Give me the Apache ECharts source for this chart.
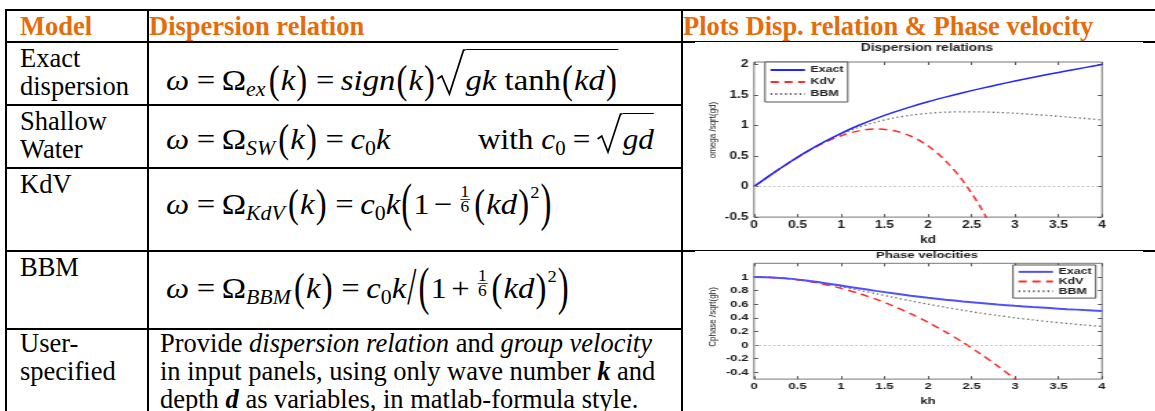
<!DOCTYPE html>
<html>
<head>
<meta charset="utf-8">
<script src="https://cdn.jsdelivr.net/npm/echarts@6/dist/echarts.min.js"></script>
<style>
html,body{margin:0;padding:0;background:#fff;}
#page{position:relative;width:1155px;height:411px;overflow:hidden;background:#fff;}
.hl{position:absolute;height:2px;background:#000;}
.vl{position:absolute;width:2px;background:#000;}
.tx{position:absolute;white-space:nowrap;font-family:"Liberation Serif","Times New Roman",serif;color:#000;}
.hd{font-weight:bold;color:#E46C0A;font-size:26.5px;line-height:30px;}
.lb{font-size:26.5px;line-height:28px;}
.f{font-size:30px;line-height:30px;transform:scaleX(1.09);transform-origin:0 0;}
.f i{font-style:italic;}
.sb{font-size:20px;font-style:italic;position:relative;top:6px;margin-right:2px;}
.sb0{font-size:20px;position:relative;top:6px;}
.p{display:inline-block;transform:scaleY(1.3);margin:0 1px;}
.P{display:inline-block;transform:translateY(-2px) scaleY(1.75);margin:0 1px;}
.sl{display:inline-block;transform:translateY(-2px) scaleY(1.75);margin:0 1px;}
.eq{margin:0 6px 0 7px;}
.mo{margin:0 4px;}
.rad{display:inline-block;position:relative;height:0;}
.rad svg{position:absolute;left:0;}
.ov{border-top:1.5px solid #000;}
.fr{display:inline-block;position:relative;height:0;width:11px;margin:0 2px;}
.fr span{position:absolute;left:0;width:11px;text-align:center;font-size:16px;line-height:16px;}
.fr b{position:absolute;left:1px;width:9px;height:1px;background:#444;top:-15px;}
.sup{font-size:17px;position:relative;top:-16px;}
.cbox{position:absolute;background:#fff;overflow:hidden;}
.cin{position:absolute;left:0;top:0;transform:scaleX(1.37846);transform-origin:0 0;filter:blur(0.45px);}
</style>
</head>
<body>
<div id="page">
  <!-- table rules -->
  <div class="hl" style="left:5px;top:9px;width:1150px"></div>
  <div class="hl" style="left:5px;top:41px;width:1150px"></div>
  <div class="hl" style="left:5px;top:104px;width:678px"></div>
  <div class="hl" style="left:5px;top:167px;width:678px"></div>
  <div class="hl" style="left:5px;top:250px;width:1150px"></div>
  <div class="hl" style="left:5px;top:328px;width:678px"></div>
  <div class="vl" style="left:5px;top:9px;height:402px"></div>
  <div class="vl" style="left:147px;top:9px;height:402px"></div>
  <div class="vl" style="left:681px;top:9px;height:402px"></div>

  <!-- header row -->
  <div class="tx hd" style="left:20px;top:11px">Model</div>
  <div class="tx hd" style="left:149px;top:11px">Dispersion relation</div>
  <div class="tx hd" style="left:683px;top:11px">Plots Disp. relation &amp; Phase velocity</div>

  <!-- model names -->
  <div class="tx lb" style="left:20px;top:44px">Exact<br>dispersion</div>
  <div class="tx lb" style="left:20px;top:107px">Shallow<br>Water</div>
  <div class="tx lb" style="left:20px;top:170px">KdV</div>
  <div class="tx lb" style="left:20px;top:253px">BBM</div>
  <div class="tx lb" style="left:20px;top:329px">User-<br>specified</div>

  <!-- dispersion relations -->
  <div class="tx f" style="left:166px;top:65px"><i>ω</i><span class="eq">=</span>Ω<span class="sb">ex</span><span class="p">(</span><i>k</i><span class="p">)</span><span class="eq">=</span><i>sign</i><span class="p">(</span><i>k</i><span class="p">)</span><span class="rad" style="width:27px"><svg width="27" height="48" style="bottom:-7px"><path d="M1 30 L5 27 L12 45 L25 1 L27 1" fill="none" stroke="#000" stroke-width="1.6"/></svg></span><span class="ov" style="padding-top:13px"><i>gk</i> tanh<span class="p">(</span><i>kd</i><span class="p">)</span></span></div>

  <div class="tx f" style="left:166px;top:124px"><i>ω</i><span class="eq">=</span>Ω<span class="sb">SW</span><span class="p">(</span><i>k</i><span class="p">)</span><span class="eq">=</span><i>c</i><span class="sb0">0</span><i>k</i></div>
  <div class="tx f" style="left:478px;top:124px;transform:scaleX(1.04)">with <i>c</i><span class="sb0">0</span><span class="eq">=</span><span class="rad" style="width:25px"><svg width="25" height="42" style="bottom:-6px"><path d="M1 26 L5 23 L11 39 L23 1 L25 1" fill="none" stroke="#000" stroke-width="1.6"/></svg></span><span class="ov" style="padding-top:8px"><i>gd</i></span></div>

  <div class="tx f" style="left:166px;top:189px"><i>ω</i><span class="eq">=</span>Ω<span class="sb">KdV</span><span class="p">(</span><i>k</i><span class="p">)</span><span class="eq">=</span><i>c</i><span class="sb0">0</span><i>k</i><span class="P">(</span>1<span class="mo">−</span><span class="fr"><span style="top:-30px">1</span><b></b><span style="top:-15px">6</span></span><span class="p">(</span><i>kd</i><span class="p">)</span><span class="sup">2</span><span class="P">)</span></div>

  <div class="tx f" style="left:166px;top:273px"><i>ω</i><span class="eq">=</span>Ω<span class="sb">BBM</span><span class="p">(</span><i>k</i><span class="p">)</span><span class="eq">=</span><i>c</i><span class="sb0">0</span><i>k</i><span class="sl">/</span><span class="P">(</span>1<span class="mo">+</span><span class="fr"><span style="top:-30px">1</span><b></b><span style="top:-15px">6</span></span><span class="p">(</span><i>kd</i><span class="p">)</span><span class="sup">2</span><span class="P">)</span></div>

  <div class="tx lb" style="left:160px;top:329px">Provide <i>dispersion relation</i> and <i>group velocity</i><br>in input panels, using only wave number <b><i>k</i></b> and<br>depth <b><i>d</i></b> as variables, in matlab-formula style.</div>

  <!-- plots -->
  <div class="cbox" style="left:695px;top:42px;width:448px;height:208px"><div id="c1" class="cin" style="width:325px;height:208px"></div></div>
  <div class="cbox" style="left:695px;top:251px;width:448px;height:160px"><div id="c2" class="cin" style="width:325px;height:160px"></div></div>
</div>

<script>
// wave number samples (kd, or kh) shared by both plots
const kd = [0, 0.2, 0.4, 0.6, 0.8, 1.0, 1.2, 1.4, 1.6, 1.8, 2.0, 2.2, 2.4, 2.6, 2.8, 3.0, 3.2, 3.4, 3.6, 3.8, 4.0];

// dispersion relations, omega / sqrt(g/d)
const omegaExact = [0, 0.199, 0.390, 0.568, 0.729, 0.873, 1.000, 1.113, 1.214, 1.306, 1.389, 1.465, 1.537, 1.604, 1.667, 1.728, 1.786, 1.842, 1.896, 1.948, 1.999];
const omegaKdV   = [0, 0.199, 0.389, 0.564, 0.715, 0.833, 0.912, 0.943, 0.917, 0.828, 0.667, 0.425, 0.096, -0.329, -0.859];
const omegaBBM   = [0, 0.199, 0.390, 0.566, 0.723, 0.857, 0.968, 1.055, 1.122, 1.169, 1.200, 1.218, 1.224, 1.223, 1.214, 1.200, 1.182, 1.162, 1.139, 1.116, 1.091];

// phase velocities, Cphase / sqrt(gh)
const cphaseExact = [1, 0.993, 0.975, 0.946, 0.911, 0.873, 0.834, 0.795, 0.759, 0.725, 0.694, 0.666, 0.640, 0.617, 0.595, 0.576, 0.558, 0.542, 0.527, 0.513, 0.500];
const cphaseKdV   = [1, 0.993, 0.973, 0.940, 0.893, 0.833, 0.760, 0.673, 0.573, 0.460, 0.333, 0.193, 0.040, -0.127, -0.307, -0.500, -0.707];
const cphaseBBM   = [1, 0.993, 0.974, 0.943, 0.904, 0.857, 0.806, 0.754, 0.701, 0.649, 0.600, 0.554, 0.510, 0.470, 0.434, 0.400, 0.370, 0.342, 0.317, 0.294, 0.273];

// axis tick labels
const yTicksDisp  = [-0.5, 0, 0.5, 1, 1.5, 2];
const yTicksPhase = [-0.4, -0.2, 0, 0.2, 0.4, 0.6, 0.8, 1];
const seriesNames = ['Exact', 'KdV', 'BBM'];

// the plot canvases are drawn narrow and stretched sideways by CSS
const SX = 448 / 325;
const px = v => (v - 695) / SX;

const FONT = '"Liberation Sans", Arial, sans-serif';
const pairs = (ys) => ys.map((y, i) => [kd[i], y]);

function plot(el, o) {
  const chart = echarts.init(document.getElementById(el), null, {renderer: 'canvas'});
  const tick = {inside: true, length: 3, lineStyle: {color: '#555', width: 1}};
  const noLine = {show: false, onZero: false};
  const lbl = {fontFamily: FONT, fontWeight: 'bold', fontSize: o.fs, color: '#222'};
  const styles = [
    {color: o.blue, width: o.blueW, type: 'solid'},
    {color: '#ff2a2a', width: 1.5, type: [6, 4]},
    {color: '#666', width: 1.3, type: [1.3, 2.2]}
  ];
  const gridLeft = px(754), gridW = (1102 - 754) / SX;
  chart.setOption({
    animation: false,
    backgroundColor: '#fff',
    grid: {left: gridLeft, top: o.gTop, width: gridW, height: o.gH, show: true,
           borderColor: '#777', borderWidth: 1, backgroundColor: '#fff'},
    legend: {
      data: seriesNames, orient: 'vertical', left: o.lgLeft, top: o.lgTop,
      itemWidth: o.lgIW, itemHeight: 6, itemGap: o.lgGap, padding: [2, 3, 2, 3],
      backgroundColor: '#fff', borderColor: '#555', borderWidth: 1, borderRadius: 0,
      itemStyle: {opacity: 0},
      textStyle: {fontFamily: FONT, fontWeight: 'bold', fontSize: o.lgFs, color: '#222',
                  lineHeight: o.lgLH, padding: [0, 0, 0, -1]},
      selectedMode: false
    },
    xAxis: [
      {type: 'value', min: 0, max: 4, interval: 0.5, position: 'bottom',
       axisLine: noLine, axisTick: tick, splitLine: {show: false},
       axisLabel: Object.assign({margin: o.xMargin}, lbl),
       name: o.xName, nameLocation: 'middle', nameGap: o.xNameGap,
       nameTextStyle: {fontFamily: FONT, fontWeight: 'bold', fontSize: o.fs, color: '#222'}},
      {type: 'value', min: 0, max: 4, interval: 0.5, position: 'top',
       axisLine: noLine, axisTick: tick, splitLine: {show: false}, axisLabel: {show: false}}
    ],
    yAxis: [
      {type: 'value', min: o.yMin, max: o.yMax, position: 'left',
       axisLine: noLine, splitLine: {show: false},
       axisTick: Object.assign({customValues: o.yTicks}, tick),
       axisLabel: Object.assign({customValues: o.yTicks, margin: 4}, lbl)},
      {type: 'value', min: o.yMin, max: o.yMax, position: 'right',
       axisLine: noLine, splitLine: {show: false},
       axisTick: Object.assign({customValues: o.yTicks}, tick), axisLabel: {show: false}}
    ],
    graphic: [
      {type: 'text', x: px(927), y: o.titleY,
       style: {text: o.title, font: 'bold ' + o.fs + 'px ' + FONT, fill: '#222', align: 'center', verticalAlign: 'middle'}},
      {type: 'text', x: px(712), y: o.yNameY, rotation: Math.PI / 2,
       style: {text: o.yName, font: '8px ' + FONT, fill: '#222', align: 'center', verticalAlign: 'middle'}}
    ],
    series: o.data.map((d, i) => ({
      type: 'line', name: seriesNames[i], data: pairs(d), xAxisIndex: 0, yAxisIndex: 0,
      symbol: 'none', smooth: 0.3, clip: true,
      lineStyle: styles[i], itemStyle: {color: styles[i].color},
      z: 3 - i,
      markLine: i === 0 ? {
        silent: true, symbol: 'none', label: {show: false},
        lineStyle: {color: '#b8b8b8', type: [1.5, 2], width: 1},
        data: [{yAxis: 0}]
      } : undefined
    }))
  });
}

plot('c1', {
  title: 'Dispersion relations', titleY: 6,
  yName: 'omega /sqrt(gd)', yNameY: 88,
  xName: 'kd', xNameGap: 12, xMargin: 3, fs: 10,
  gTop: 20, gH: 163.7, yMin: -0.5, yMax: 2.04, yTicks: yTicksDisp,
  lgLeft: px(765), lgTop: 20, lgIW: 25, lgGap: 0, lgFs: 9, lgLH: 12,
  blue: '#2424ff', blueW: 1.5,
  data: [omegaExact, omegaKdV, omegaBBM]
});

plot('c2', {
  title: 'Phase velocities', titleY: 4.5,
  yName: 'Cphase /sqrt(gh)', yNameY: 66,
  xName: 'kh', xNameGap: 9, xMargin: 2, fs: 9.5,
  gTop: 12.3, gH: 128.7, yMin: -0.5, yMax: 1.2, yTicks: yTicksPhase,
  lgLeft: px(1013), lgTop: 14, lgIW: 25, lgGap: 0, lgFs: 9, lgLH: 9.7,
  blue: '#5050ff', blueW: 2,
  data: [cphaseExact, cphaseKdV, cphaseBBM]
});
</script>
</body>
</html>
